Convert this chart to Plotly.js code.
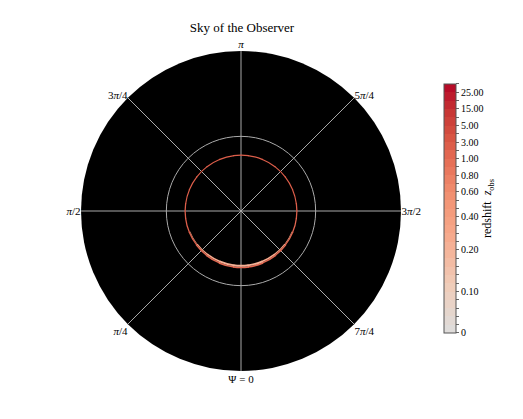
<!DOCTYPE html>
<html>
<head>
<meta charset="utf-8">
<script src="https://cdn.plot.ly/plotly-3.0.1.min.js"></script>
<style>html,body{margin:0;padding:0;background:#fff;}#chart{width:523px;height:419px;}</style>
</head>
<body>
<div id="chart"></div>
<script>
// ---- data ----
// colorbar level boundaries (redshift) and their band index (30 bands total)
const levelValues = [0, 0.1, 0.2, 0.4, 0.6, 0.8, 1.0, 3.0, 5.0, 15.0, 25.0];
const levelLabels = ['0', '0.10', '0.20', '0.40', '0.60', '0.80', '1.00', '3.00', '5.00', '15.00', '25.00'];
const levelBand   = [0, 5, 10, 14, 17, 19, 21, 23, 25, 27, 29];
const nBands = 30;

// observer sky angle Psi (deg) of ring segments
const ringPsi = [0, 15, 30, 45, 60, 75, 90, 105, 120, 135, 150, 165, 180, 195, 210, 225, 240, 255, 270, 285, 300, 315, 330, 345];
// outer ring: redshift, inner radius, thickness
const ringZ    = [1.2, 1.3, 1.5, 1.7, 2.0, 2.2, 2.5, 2.5, 2.7, 2.7, 2.8, 2.8, 2.8, 2.8, 2.7, 2.6, 2.4, 2.2, 2.0, 1.8, 1.6, 1.5, 1.3, 1.2];
const ringBase = [5.22, 5.21, 5.2, 5.19, 5.18, 5.18, 5.18, 5.18, 5.18, 5.18, 5.18, 5.18, 5.18, 5.18, 5.18, 5.18, 5.18, 5.18, 5.18, 5.18, 5.18, 5.19, 5.2, 5.21];
const ringW    = [0.15, 0.15, 0.14, 0.13, 0.12, 0.12, 0.12, 0.11, 0.11, 0.11, 0.11, 0.11, 0.11, 0.11, 0.11, 0.11, 0.11, 0.11, 0.12, 0.12, 0.12, 0.13, 0.14, 0.15];
// inner low-redshift (bright) part near Psi = 0
const innerPsi  = [300, 315, 330, 345, 0, 15, 30, 45, 60];
const innerZ    = [0.4, 0.32, 0.26, 0.22, 0.2, 0.22, 0.26, 0.32, 0.4];
const innerBase = [5.13, 5.09, 5.06, 5.05, 5.05, 5.05, 5.06, 5.09, 5.13];
const innerW    = [0.05, 0.1, 0.15, 0.17, 0.17, 0.16, 0.14, 0.1, 0.05];

const angTickVals = [0, 45, 90, 135, 180, 225, 270, 315];
const angTickText = ['\u03A8 = 0', '<i>\u03C0</i>/4', '<i>\u03C0</i>/2', '3<i>\u03C0</i>/4', '<i>\u03C0</i>', '5<i>\u03C0</i>/4', '3<i>\u03C0</i>/2', '7<i>\u03C0</i>/4'];

// ---- helpers ----
function zToBand(z) {
  for (let i = 0; i < levelValues.length - 1; i++) {
    if (z <= levelValues[i + 1]) {
      const f = (z - levelValues[i]) / (levelValues[i + 1] - levelValues[i]);
      return levelBand[i] + f * (levelBand[i + 1] - levelBand[i]);
    }
  }
  return Math.min(nBands, levelBand[levelBand.length - 1] + 0.5);
}
// grey -> red (upper half of coolwarm)
const anchors = [
  [0.0, [221, 221, 221]], [0.2, [241, 203, 183]], [0.4, [246, 167, 137]],
  [0.5, [244, 154, 123]], [0.6, [238, 133, 104]], [0.7, [228, 108, 84]],
  [0.8, [213, 80, 64]], [0.9, [197, 50, 51]], [1.0, [180, 4, 38]]
];
function sampleColor(f) {
  for (let i = 0; i < anchors.length - 1; i++) {
    const a = anchors[i], b = anchors[i + 1];
    if (f <= b[0]) {
      const t = (f - a[0]) / (b[0] - a[0]);
      const c = a[1].map((v, k) => Math.round(v + t * (b[1][k] - v)));
      return 'rgb(' + c.join(',') + ')';
    }
  }
  return 'rgb(180,4,38)';
}
const colorscale = [];
for (let i = 0; i < nBands; i++) {
  const col = sampleColor((i + 0.5) / nBands);
  colorscale.push([i / nBands, col]);
  colorscale.push([(i + 1) / nBands, col]);
}
const cbTickVals = [], cbTickText = [];
for (let i = 0; i <= nBands; i++) {
  cbTickVals.push(i);
  const j = levelBand.indexOf(i);
  cbTickText.push(j >= 0 ? levelLabels[j] : ' ');
}

const serif = 'Liberation Serif, DejaVu Serif, serif';

const outer = {
  type: 'barpolar',
  theta: ringPsi,
  base: ringBase,
  r: ringW,
  width: ringPsi.map(() => 16),
  marker: {
    color: ringZ.map(zToBand),
    colorscale: colorscale, cmin: 0, cmax: nBands,
    line: {width: 0},
    showscale: true,
    colorbar: {
      x: 444 / 523, xanchor: 'left',
      y: 0.5024, yanchor: 'middle',
      len: 249 / 419, lenmode: 'fraction',
      thickness: 12, xpad: 0, ypad: 0,
      outlinecolor: '#555', outlinewidth: 1,
      tickmode: 'array', tickvals: cbTickVals, ticktext: cbTickText,
      ticks: 'outside', ticklen: 3, tickcolor: '#666', tickwidth: 1,
      tickfont: {family: serif, size: 10, color: '#000'},
      title: {text: 'redshift  <i>z</i><sub>obs</sub>', side: 'right', font: {family: serif, size: 12, color: '#000'}}
    }
  },
  hoverinfo: 'skip'
};
const inner = {
  type: 'barpolar',
  theta: innerPsi,
  base: innerBase,
  r: innerW,
  width: innerPsi.map(() => 16),
  marker: {
    color: innerZ.map(zToBand),
    colorscale: colorscale, cmin: 0, cmax: nBands,
    line: {width: 0},
    showscale: false
  },
  hoverinfo: 'skip'
};

const layout = {
  width: 523, height: 419,
  margin: {l: 0, r: 0, t: 0, b: 0},
  paper_bgcolor: '#fff',
  showlegend: false,
  title: {text: 'Sky of the Observer', x: 242 / 523, xanchor: 'center', y: 1 - 27 / 419, yanchor: 'middle',
          font: {family: serif, size: 13, color: '#000'}},
  polar: {
    domain: {x: [81 / 523, 401 / 523], y: [(419 - 371) / 419, (419 - 51) / 419]},
    bgcolor: '#000',
    barmode: 'overlay',
    bargap: 0,
    radialaxis: {range: [0, 15], tickvals: [7], showticklabels: false, ticks: '', showline: false,
                 gridcolor: '#aaaaaa', gridwidth: 1},
    angularaxis: {rotation: 270, direction: 'clockwise', tickmode: 'array', tickvals: angTickVals, ticktext: angTickText,
                  ticks: '', showline: false, gridcolor: '#aaaaaa', gridwidth: 1,
                  tickfont: {family: serif, size: 11, color: '#000'}}
  }
};

Plotly.newPlot('chart', [outer, inner], layout, {displayModeBar: false, staticPlot: true});
</script>
</body>
</html>
